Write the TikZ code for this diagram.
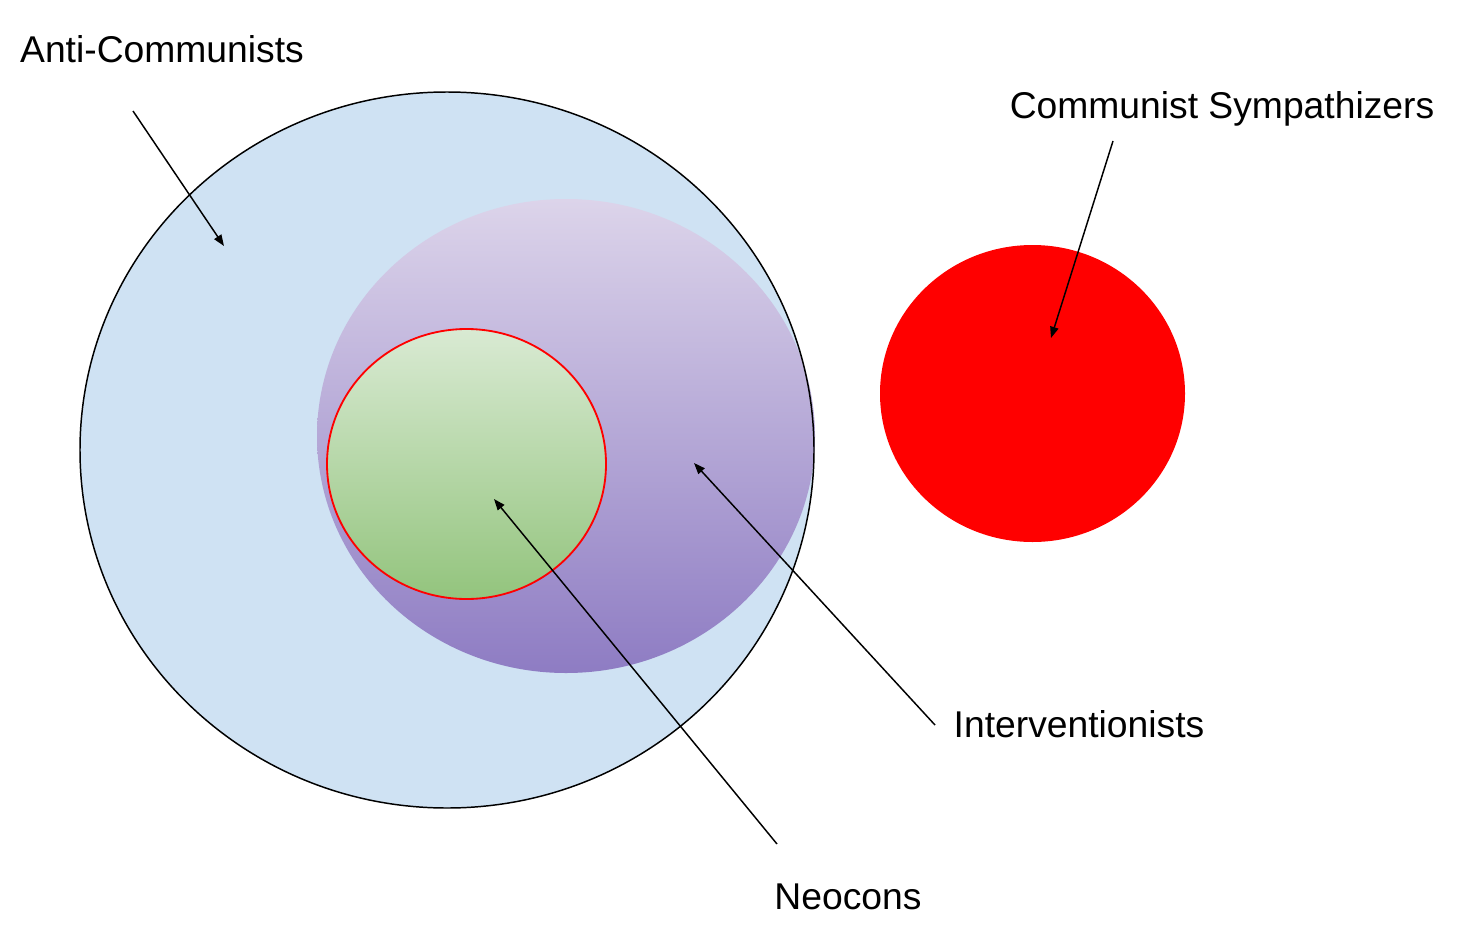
\documentclass[tikz,border=0pt]{standalone}
\usepackage{fontspec}
\setmainfont{Liberation Sans}
\usetikzlibrary{arrows.meta}
\definecolor{antiblue}{HTML}{CFE2F3}
\definecolor{intervtop}{HTML}{DCD4EA}
\definecolor{intervbot}{HTML}{8E7CC3}
\definecolor{neocontop}{HTML}{D9EAD3}
\definecolor{neoconbot}{HTML}{93C47D}
\definecolor{commred}{HTML}{FF0000}
\tikzset{
    setlabel/.style={anchor=base, inner sep=0pt, font=\fontsize{26.5}{30}\selectfont},
    pointer/.style={-{Triangle[length=2.8mm, width=2.1mm]}, line width=1.05pt, draw=black}
}
\begin{document}
\begin{tikzpicture}[x=0.025cm, y=-0.025cm]
    \useasboundingbox (0,0) rectangle (1460,940);
    % the sets
    \fill[antiblue] (447,450) ellipse [x radius=367, y radius=358];
    \shade[top color=intervtop, bottom color=intervbot] (566,436) ellipse [x radius=249, y radius=237];
    \draw[black, line width=1.05pt] (447,450) ellipse [x radius=367, y radius=358];
    \shade[top color=neocontop, bottom color=neoconbot, draw=commred, line width=1.3pt] (466.5,464) ellipse [x radius=139.5, y radius=135];
    \fill[commred] (1032.5,393.5) ellipse [x radius=152.5, y radius=148.5];
    % labels
    \node[setlabel] (anticom) at (162,62) {Anti-Communists};
    \node[setlabel] (sympath) at (1222,118) {Communist Sympathizers};
    \node[setlabel] (interv) at (1079,737) {Interventionists};
    \node[setlabel] (neocon) at (848,909) {Neocons};
    % pointer ends
    \coordinate (anticomtail) at (133,111);
    \coordinate (anticomtip) at (224,246);
    \coordinate (sympathtail) at (1113,141);
    \coordinate (sympathtip) at (1051,338);
    \coordinate (intervtail) at (935,725);
    \coordinate (intervtip) at (694,463);
    \coordinate (neocontail) at (777,844);
    \coordinate (neocontip) at (494,499);
    \foreach \s in {anticom, sympath, interv, neocon}
        \draw[pointer] (\s tail) -- (\s tip);
\end{tikzpicture}
\end{document}
